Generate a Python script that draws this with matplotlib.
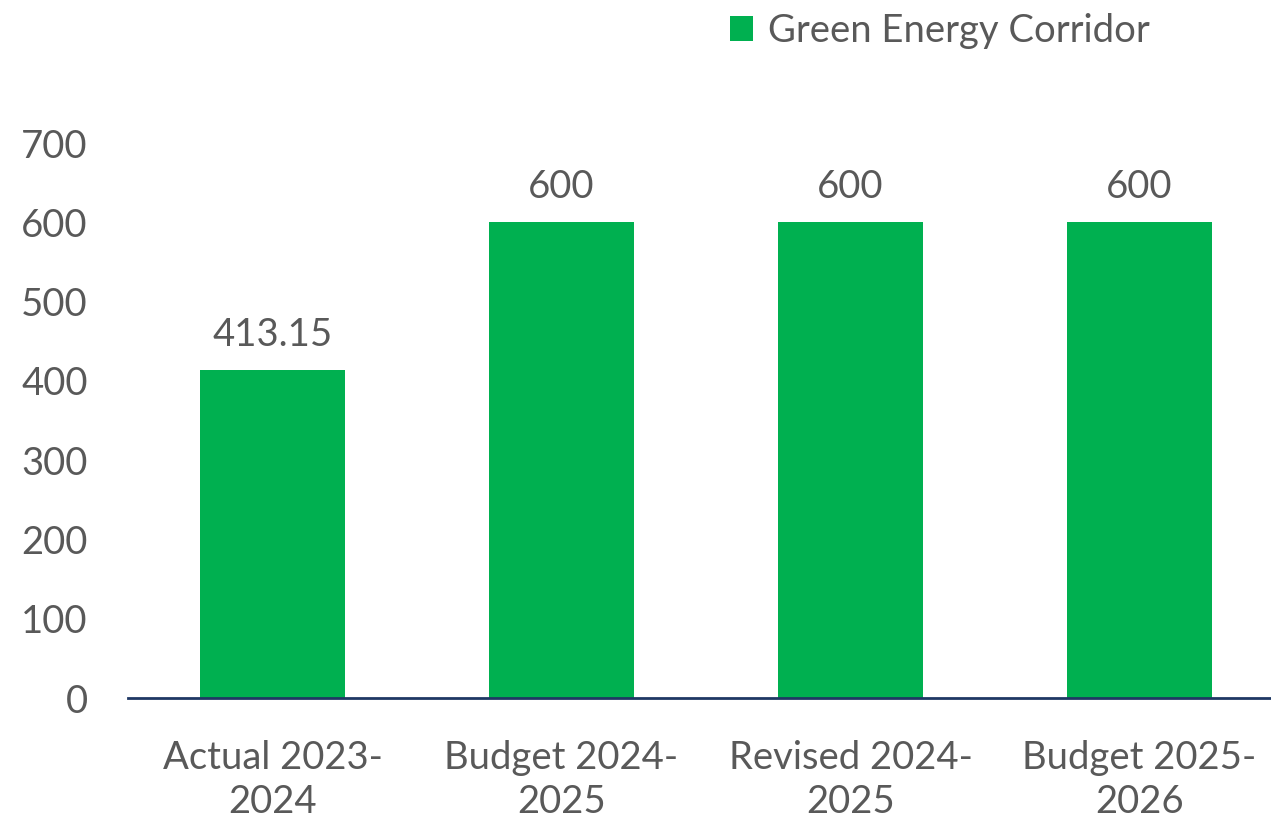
import matplotlib.pyplot as plt
from matplotlib.patches import Patch

# data
categories = ['Actual 2023-\n2024', 'Budget 2024-\n2025', 'Revised 2024-\n2025', 'Budget 2025-\n2026']
values = [413.15, 600, 600, 600]
value_labels = ['413.15', '600', '600', '600']
series_name = 'Green Energy Corridor'

green = '#00B050'
txt = '#595959'
fs = 27.5

plt.rcParams['font.family'] = ['Lato', 'DejaVu Sans']

fig = plt.figure(figsize=(12.71, 8.22), dpi=100)
ax = fig.add_axes([128 / 1271, 124 / 822, 1156 / 1271, 555 / 822])

x = range(len(categories))
ax.bar(x, values, width=0.5, color=green, zorder=2)

for xi, v, lab in zip(x, values, value_labels):
    ax.text(xi, v + 22, lab, ha='center', va='bottom', fontsize=fs, color=txt)

ax.set_xlim(-0.5, 3.5)
ax.set_ylim(0, 700)
ax.set_yticks(range(0, 701, 100))
ax.set_xticks(list(x))
ax.set_xticklabels(categories, linespacing=1.3)
ax.tick_params(axis='both', length=0, labelsize=fs, labelcolor=txt)
ax.tick_params(axis='x', pad=30)
ax.tick_params(axis='y', pad=29)

for s in ['top', 'right', 'left']:
    ax.spines[s].set_visible(False)
ax.spines['bottom'].set_color('#1F3864')
ax.spines['bottom'].set_linewidth(2)

handle = Patch(facecolor=green, edgecolor='none')
fig.legend([handle], [series_name], loc='center left', bbox_to_anchor=(730 / 1271, 1 - 31 / 822),
           frameon=False, fontsize=fs, labelcolor=txt, handlelength=0.6, handleheight=0.65,
           handletextpad=0.4, borderaxespad=0, borderpad=0)

fig.savefig('out.png', dpi=100)
